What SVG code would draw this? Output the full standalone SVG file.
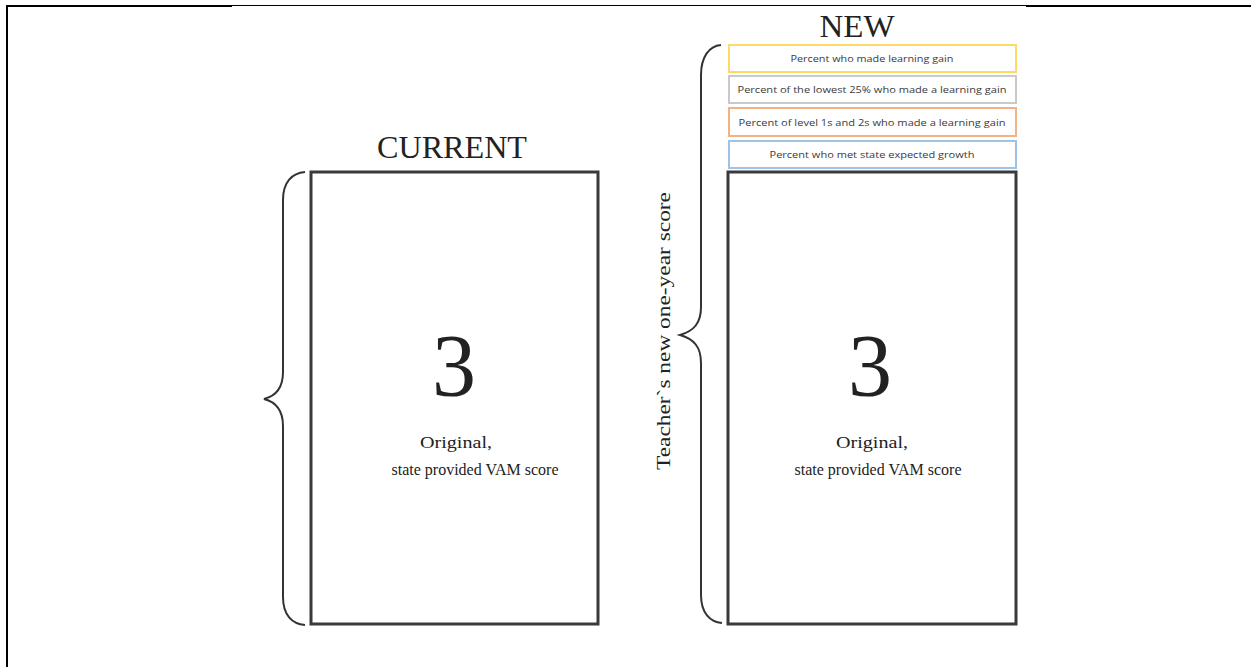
<svg xmlns="http://www.w3.org/2000/svg" width="1251" height="667" viewBox="0 0 1251 667">
<style>
.serif{font-family:"Liberation Serif","Times New Roman",serif;fill:#222}
.small{font-family:"Open Sans","Liberation Sans",sans-serif;font-size:9px;fill:#3a3a3a;text-anchor:middle}
.box{fill:#fff;stroke:#3a3a3a;stroke-width:3}
.brace{fill:none;stroke:#333;stroke-width:2}
</style>
<rect width="1251" height="667" fill="#fff"/>
<g id="frame" stroke="#000" fill="none">
<line x1="7" y1="6" x2="7" y2="667" stroke-width="2"/>
<line x1="6" y1="6" x2="232" y2="6" stroke-width="2"/>
<line x1="232" y1="5.5" x2="1026" y2="5.5" stroke-width="1"/>
<line x1="1026" y1="6" x2="1251" y2="6" stroke-width="2"/>
</g>
<g id="current">
<text class="serif" x="452" y="158" font-size="31" text-anchor="middle" textLength="150" lengthAdjust="spacingAndGlyphs">CURRENT</text>
<rect class="box" x="311" y="172" width="287" height="452"/>
<text class="serif" x="454" y="395" font-size="88" text-anchor="middle">3</text>
<text class="serif" x="456" y="448" font-size="17" text-anchor="middle" textLength="72" lengthAdjust="spacingAndGlyphs">Original,</text>
<text class="serif" x="475" y="475" font-size="17" text-anchor="middle" textLength="167" lengthAdjust="spacingAndGlyphs">state provided VAM score</text>
</g>
<g id="new">
<text class="serif" x="857" y="37" font-size="31" text-anchor="middle" textLength="75" lengthAdjust="spacingAndGlyphs">NEW</text>
<rect class="box" x="728" y="172" width="288" height="452"/>
<text class="serif" x="870" y="395" font-size="88" text-anchor="middle">3</text>
<text class="serif" x="872" y="448" font-size="17" text-anchor="middle" textLength="72" lengthAdjust="spacingAndGlyphs">Original,</text>
<text class="serif" x="878" y="475" font-size="17" text-anchor="middle" textLength="167" lengthAdjust="spacingAndGlyphs">state provided VAM score</text>
</g>
<g id="box1">
<rect x="729" y="45" width="287" height="27" fill="#fff" stroke="#ffd966" stroke-width="2"/>
<text class="small" x="872" y="62" textLength="163" lengthAdjust="spacingAndGlyphs">Percent who made learning gain</text>
</g>
<g id="box2">
<rect x="729" y="76" width="287" height="27" fill="#fff" stroke="#c9c9c9" stroke-width="2"/>
<text class="small" x="872" y="93" textLength="269" lengthAdjust="spacingAndGlyphs">Percent of the lowest 25% who made a learning gain</text>
</g>
<g id="box3">
<rect x="729" y="108" width="287" height="28" fill="#fff" stroke="#f4b183" stroke-width="2"/>
<text class="small" x="872" y="125.5" textLength="267" lengthAdjust="spacingAndGlyphs">Percent of level 1s  and 2s who made a learning gain</text>
</g>
<g id="box4">
<rect x="729" y="141" width="287" height="27" fill="#fff" stroke="#9dc3e6" stroke-width="2"/>
<text class="small" x="872" y="158" textLength="205" lengthAdjust="spacingAndGlyphs">Percent who met state expected growth</text>
</g>
<g id="connectors">
<path class="brace" d="M305,172 C292,173 283,182 283,200 L283,372 C283,388 276,396 264,399 C276,402 283,410 283,426 L283,597 C283,615 292,624 305,625"/>
<path class="brace" d="M721,45 C709,46 701,57 701,75 L701,307 C701,323 694,331 680,335 C694,339 701,347 701,363 L701,595 C701,613 710,622 722,623"/>
</g>
<g id="label">
<text class="serif" transform="translate(670,331) rotate(-90)" x="0" y="0" font-size="19" text-anchor="middle" textLength="278" lengthAdjust="spacingAndGlyphs">Teacher`s new one-year score</text>
</g>
</svg>
